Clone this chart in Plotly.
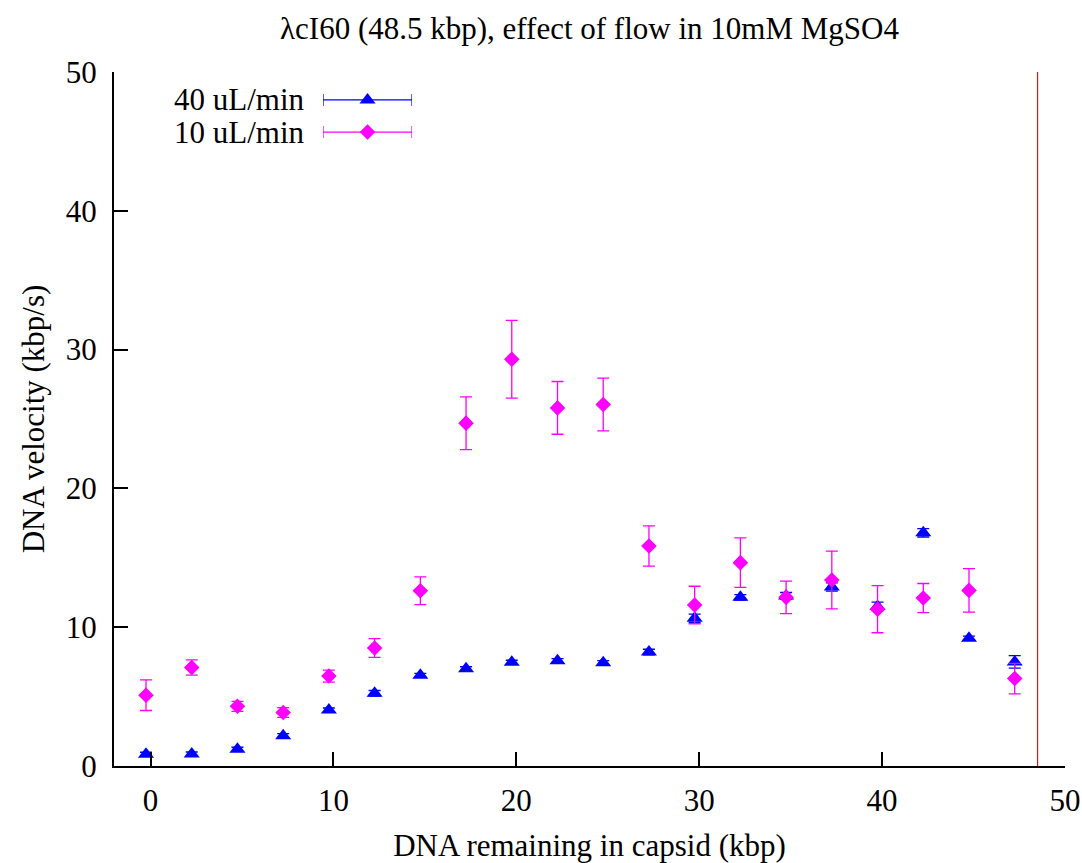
import plotly.graph_objects as go

# ---- data ----
dna_remaining = [-0.25, 2.25, 4.75, 7.25, 9.75, 12.25, 14.75, 17.25, 19.75, 22.25,
                 24.75, 27.25, 29.75, 32.25, 34.75, 37.25, 39.75, 42.25, 44.75, 47.25]

vel_40 = [0.84, 0.86, 1.2, 2.18, 4.03, 5.24, 6.53, 7.0, 7.47, 7.59,
          7.44, 8.21, 10.64, 12.15, 12.25, 12.9, 11.5, 16.8, 9.2, 7.5]
err_40 = [0.15, 0.15, 0.15, 0.15, 0.15, 0.2, 0.15, 0.15, 0.15, 0.15,
          0.15, 0.2, 0.3, 0.2, 0.25, 0.3, 0.3, 0.3, 0.15, 0.45]

vel_10 = [5.1, 7.1, 4.3, 3.85, 6.48, 8.5, 12.63, 24.7, 29.3, 25.8,
          26.05, 15.85, 11.6, 14.65, 12.15, 13.4, 11.3, 12.1, 12.65, 6.3]
err_10 = [1.1, 0.55, 0.36, 0.35, 0.43, 0.68, 1.0, 1.9, 2.8, 1.9,
          1.9, 1.45, 1.35, 1.78, 1.17, 2.08, 1.7, 1.05, 1.57, 1.1]

genome_length = 48.5
series_names = ["40 uL/min", "10 uL/min"]
x_ticks = [0, 10, 20, 30, 40, 50]
y_ticks = [0, 10, 20, 30, 40, 50]

FONT = "Liberation Serif"
BLUE = "#0000ff"
MAGENTA = "#ff00ff"
FS = 31

fig = go.Figure()

fig.add_trace(go.Scatter(
    x=dna_remaining, y=vel_40, mode="markers", name=series_names[0],
    marker=dict(symbol="triangle-up", size=14, color=BLUE),
    error_y=dict(type="data", array=err_40, visible=True, color=BLUE, thickness=1.3, width=6),
    showlegend=False,
))
fig.add_trace(go.Scatter(
    x=dna_remaining, y=vel_10, mode="markers", name=series_names[1],
    marker=dict(symbol="diamond", size=12, color=MAGENTA),
    error_y=dict(type="data", array=err_10, visible=True, color=MAGENTA, thickness=1.3, width=6),
    showlegend=False,
))

# genome length marker
fig.add_shape(type="line", xref="x", yref="paper", x0=genome_length, x1=genome_length,
              y0=0, y1=1, line=dict(color="#d8141c", width=1.2))

# ---- custom gnuplot-style legend (text left, sample right) ----
leg_y = [0.9597, 0.9135]
leg_colors = [BLUE, MAGENTA]
leg_symbols = ["triangle-up", "diamond"]
leg_sizes = [14, 12]
for i in range(2):
    fig.add_trace(go.Scatter(
        x=[0], y=[leg_y[i]], xaxis="x2", yaxis="y2", mode="markers",
        marker=dict(symbol=leg_symbols[i], size=leg_sizes[i], color=leg_colors[i]),
        error_x=dict(type="constant", value=1, visible=True, color=leg_colors[i], thickness=1.3, width=6),
        showlegend=False, hoverinfo="skip",
    ))
    fig.add_annotation(xref="paper", yref="paper", x=0.2029, y=leg_y[i],
                       text=series_names[i], showarrow=False, xanchor="right", yanchor="middle",
                       font=dict(family=FONT, size=FS, color="black"))

fig.update_layout(
    width=1082, height=863,
    paper_bgcolor="white", plot_bgcolor="rgba(0,0,0,0)",
    margin=dict(l=114, r=17, t=72, b=97),
    font=dict(family=FONT, size=FS, color="black"),
    title=dict(text="λcI60 (48.5 kbp), effect of flow in 10mM MgSO4",
               x=0.5, xref="paper", xanchor="center",
               y=1 - 28 / 863, yref="container", yanchor="middle",
               font=dict(family=FONT, size=FS, color="black")),
    xaxis=dict(range=[-2, 50], tickvals=x_ticks, ticks="inside", ticklen=14, tickwidth=2,
               tickcolor="black", showline=True, linecolor="black", linewidth=2,
               showgrid=False, zeroline=False, mirror=False, automargin=False,
               ticklabelstandoff=6,
               title=dict(text="DNA remaining in capsid (kbp)", standoff=20,
                          font=dict(family=FONT, size=FS))),
    yaxis=dict(range=[0, 50], tickvals=y_ticks, ticks="inside", ticklen=14, tickwidth=2,
               tickcolor="black", showline=True, linecolor="black", linewidth=2,
               showgrid=False, zeroline=False, mirror=False, automargin=False,
               ticklabelstandoff=9,
               title=dict(text="DNA velocity (kbp/s)", standoff=12,
                          font=dict(family=FONT, size=FS))),
    xaxis2=dict(domain=[0.2198, 0.3134], range=[-1, 1], anchor="y2", visible=False,
                fixedrange=True),
    yaxis2=dict(domain=[0.88, 1.0], range=[0.88, 1.0], anchor="x2", visible=False,
                fixedrange=True),
)

fig.write_html("out.html",
               config={"displayModeBar": False},
               post_script="document.body.style.margin='0';document.body.style.overflow='hidden';")
